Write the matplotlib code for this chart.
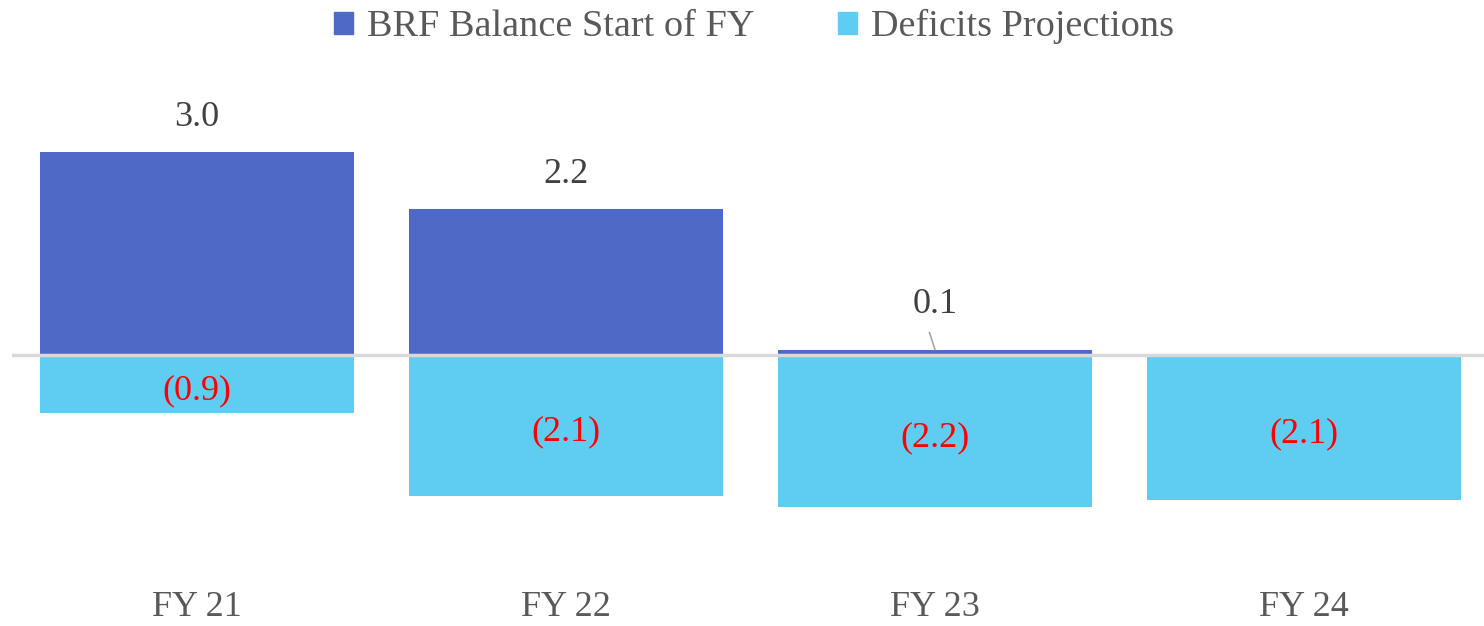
import matplotlib.pyplot as plt
from matplotlib.patches import Patch

years = ["FY 21", "FY 22", "FY 23", "FY 24"]
brf_balance = [3.0, 2.15, 0.07, 0.0]
deficits = [-0.86, -2.08, -2.24, -2.14]
balance_labels = ["3.0", "2.2", "0.1", ""]
deficit_labels = ["(0.9)", "(2.1)", "(2.2)", "(2.1)"]

dark_blue = "#4F69C6"
light_blue = "#5FCDF2"

plt.rcParams["font.family"] = ["Liberation Serif", "DejaVu Serif"]

W, H = 1484, 626
fig = plt.figure(figsize=(W / 100, H / 100), dpi=100)
# axes: left 12.5px, 369px per category, bottom at y=560px, top at y=66px
ax = fig.add_axes([12.5 / W, (H - 560) / H, 1476 / W, (560 - 66) / H])

x = list(range(len(years)))
ax.bar(x, brf_balance, width=0.85, color=dark_blue, zorder=2)
ax.bar(x, deficits, width=0.85, color=light_blue, zorder=2)
ax.axhline(0, color="#D9D9D9", linewidth=2.5, zorder=3)

ax.set_xlim(-0.5, 3.5)
ax.set_ylim(-3.03, 4.27)

for i, (v, lab) in enumerate(zip(brf_balance, balance_labels)):
    if not lab:
        continue
    if v < 0.3:
        ax.plot([i - 0.015, i], [0.33, 0.08], color="#A6A6A6", linewidth=1.2, zorder=4)
        ax.text(i, 0.5, lab, ha="center", va="bottom", fontsize=26, color="#404040")
    else:
        ax.text(i, v + 0.27, lab, ha="center", va="bottom", fontsize=26, color="#404040")

for i, (v, lab) in enumerate(zip(deficits, deficit_labels)):
    ax.text(i, v / 2 - 0.1, lab, ha="center", va="center", fontsize=26, color="red", zorder=5)

ax.set_xticks(x)
ax.set_xticklabels(years, fontsize=26, color="#595959")
ax.tick_params(axis="x", length=0, pad=22)
ax.set_yticks([])
for s in ax.spines.values():
    s.set_visible(False)

handles = [Patch(color=dark_blue, label="BRF Balance Start of FY"),
           Patch(color=light_blue, label="Deficits Projections")]
leg = fig.legend(handles=handles, loc="upper center", bbox_to_anchor=(0.508, 1.04),
                 ncol=2, frameon=False, fontsize=27.5, handlelength=0.5, handleheight=0.5,
                 handletextpad=0.35, columnspacing=2.2)
for t in leg.get_texts():
    t.set_color("#595959")

fig.savefig("out.png", dpi=100)
